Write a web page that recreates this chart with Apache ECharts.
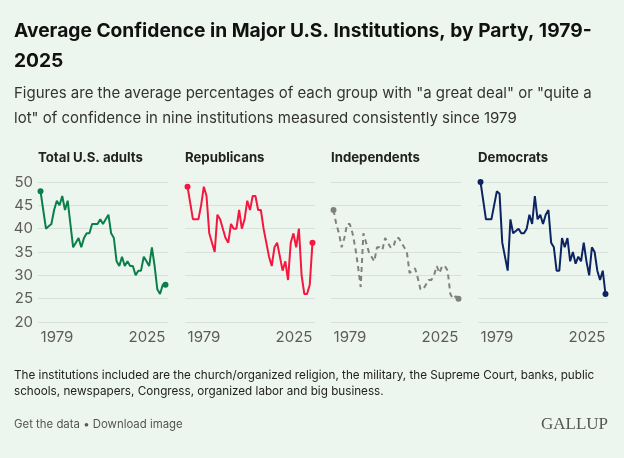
<!DOCTYPE html>
<html lang="en">
<head>
<meta charset="utf-8">
<title>Average Confidence in Major U.S. Institutions</title>
<style>
  html, body { margin: 0; padding: 0; background: #edf6ee; }
  #main { width: 624px; height: 458px; }
</style>
</head>
<body>
<div id="main"></div>
<script src="https://cdn.jsdelivr.net/npm/echarts@6/dist/echarts.min.js"></script>
<script>
var years = [1979,1980,1981,1982,1983,1984,1985,1986,1987,1988,1989,1990,1991,1992,1993,1994,
  1995,1996,1997,1998,1999,2000,2001,2002,2003,2004,2005,2006,2007,2008,2009,2010,
  2011,2012,2013,2014,2015,2016,2017,2018,2019,2020,2021,2022,2023,2024,2025];

var totalAdults = [48,44,40,40.5,41,44,46,45,47,44,46,41,36,37,38,36,38,39,39,41,41,41,42,41,42,43,39,38,33,32,34,32,33,32,32,30,31,31,34,33,32,36,32,27,26,28,28];
var republicans = [49,45.5,42,42,42,45,49,47,39,37,35,43,42,40,38,37,41,40,40,44,40,42,46,44,47,47,44,44,40,37,34,32,36,37,34,31,33,29,37,39,36,40,30,26,26,28,37];
var independents = [44,41,39,36,38,41,41,39,36,32,27.5,39,37,35,34,33,36,36,35.5,38,37,36,36,38,38,37,36,35,30.5,31,31.5,29.5,27,27,28,29,29,30,32,30.5,32,32,31,26,25,25.5,25];
var democrats = [50,46,42,42,42,45,48,47.5,37,34,31,42,39,39.5,40,39,39,40,43,41,47,42,43,41,43,44,37,36,31,31,38,36,38,33,35,32.5,34,33,37,33,30,36,35,31,29,31,26];

var panelNames = ['Total U.S. adults','Republicans','Independents','Democrats'];
var panelValues = [totalAdults, republicans, independents, democrats];
var panelColors = ['#0b7f4a','#f5173f','#808080','#0c2461'];
var panelLeft = [38,185,331,478];
var font = 'Inter';

var titles = [
  {left:14, top:16, padding:0, text:'Average Confidence in Major U.S. Institutions, by Party, 1979-\n2025',
    textStyle:{fontFamily:font,fontSize:19.2,fontWeight:700,color:'#111',lineHeight:30}},
  {left:14, top:81, padding:0, text:'Figures are the average percentages of each group with "a great deal" or "quite a\nlot" of confidence in nine institutions measured consistently since 1979',
    textStyle:{fontFamily:font,fontSize:15,fontWeight:400,color:'#333',lineHeight:25}},
  {left:14, top:368, padding:0, text:'The institutions included are the church/organized religion, the military, the Supreme Court, banks, public\nschools, newspapers, Congress, organized labor and big business.',
    textStyle:{fontFamily:font,fontSize:11.7,fontWeight:400,color:'#222',lineHeight:15.5}},
  {left:14, top:419, padding:0, text:'Get the data \u2022 Download image',
    textStyle:{fontFamily:font,fontSize:11.4,fontWeight:400,color:'#555'}},
  {right:16, top:416, padding:0, text:'GALLUP',
    textStyle:{fontFamily:'Liberation Serif',fontSize:17,fontWeight:400,color:'#555'}}
];

var grids = [], xAxes = [], yAxes = [], series = [];
panelNames.forEach(function(name, i) {
  titles.push({left:panelLeft[i], top:152, padding:0, text:name,
    textStyle:{fontFamily:font,fontSize:13.2,fontWeight:700,color:'#222'}});
  grids.push({left:panelLeft[i], top:182, width:130, height:140});
  xAxes.push({
    gridIndex:i, type:'value', min:1978.07, max:2025.93,
    splitLine:{show:false}, axisLine:{show:false}, axisTick:{show:false},
    axisLabel:{
      customValues:[1979,2025], margin:8, alignMinLabel:'left', alignMaxLabel:'right',
      fontFamily:font, fontSize:15, color:'#5c5c5c',
      formatter:function(v){ return String(v); }
    }
  });
  yAxes.push({
    gridIndex:i, type:'value', min:20, max:50, interval:5,
    axisLine:{show:false}, axisTick:{show:false},
    splitLine:{lineStyle:{color:'#d6e1d9',width:1}},
    axisLabel:{show:i===0, margin:5, padding:[3,0,0,0], fontFamily:font, fontSize:15, color:'#5c5c5c'}
  });
  var vals = panelValues[i];
  series.push({
    name:name, type:'line', xAxisIndex:i, yAxisIndex:i,
    data:vals.map(function(v,j){ return [years[j],v]; }),
    showAllSymbol:true,
    symbol:function(v,p){ return (p.dataIndex===0||p.dataIndex===vals.length-1)?'circle':'none'; },
    symbolSize:6,
    itemStyle:{color:panelColors[i]},
    lineStyle:{color:panelColors[i],width:2,type:i===2?[5,4]:'solid'},
    animation:false, silent:true
  });
});

var chart = echarts.init(document.getElementById('main'));
chart.setOption({
  backgroundColor:'#edf6ee',
  animation:false,
  title:titles,
  grid:grids,
  xAxis:xAxes,
  yAxis:yAxes,
  series:series
});
</script>
</body>
</html>
